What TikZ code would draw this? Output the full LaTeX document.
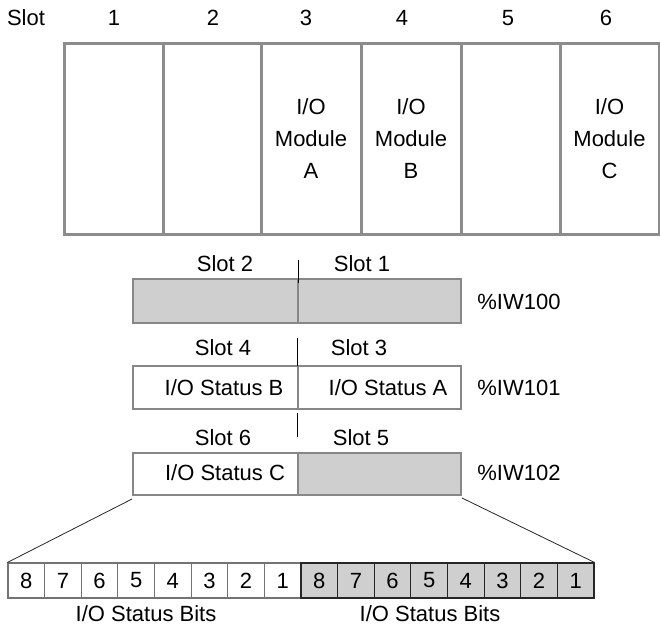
\documentclass[tikz,border=0pt]{standalone}
\usepackage{fontspec}
\setmainfont{Liberation Sans}
\begin{document}
\begin{tikzpicture}[x=1pt,y=-1pt,
  txt/.style={inner sep=0pt,font=\fontsize{22}{32}\selectfont,align=center},
  rackcol/.style={draw=black!45,line width=3pt,minimum height=191pt,inner sep=0pt,
     font=\fontsize{22}{32}\selectfont,align=center},
  reghalf/.style={draw=black!47,line width=2pt,inner sep=0pt,minimum width=165pt},
  wbit/.style={draw=black!55,line width=1.1pt,minimum width=36.6pt,minimum height=35pt,inner sep=0pt,
     font=\fontsize{22}{26}\selectfont},
  gbit/.style={wbit,fill=black!19,draw=black!85},
  tick/.style={draw=black,line width=0.9pt},
  fan/.style={draw=black!85,line width=0.8pt}]
\useasboundingbox (0,0) rectangle (660,629);
% top slot numbers
\node[txt] (sl)  at (26,18) {Slot};
\node[txt] (s1)  at (114,18) {1};
\node[txt] (s2)  at (213,18) {2};
\node[txt] (s3)  at (306,18) {3};
\node[txt] (s4)  at (402,18) {4};
\node[txt] (s5)  at (508,18) {5};
\node[txt] (s6)  at (606,18) {6};
% rack
\node[rackcol,minimum width=99pt]  (c1) at (113.5,138.5) {};
\node[rackcol,minimum width=98pt]  (c2) at (212,138.5) {};
\node[rackcol,minimum width=100pt] (c3) at (311,138.5) {I/O\\Module\\A};
\node[rackcol,minimum width=100pt] (c4) at (411,138.5) {I/O\\Module\\B};
\node[rackcol,minimum width=99pt]  (c5) at (510.5,138.5) {};
\node[rackcol,minimum width=99pt]  (c6) at (609.5,138.5) {I/O\\Module\\C};
% register %IW100
\node[reghalf,fill=black!19,minimum height=44pt] (r1l) at (215.5,301) {};
\node[reghalf,fill=black!19,minimum height=44pt,minimum width=163pt] (r1r) at (379.5,301) {};
\node[txt] (r1a) at (225,264) {Slot 2};
\node[txt] (r1b) at (362,264) {Slot 1};
\node[txt] (r1n) at (519,302) {\%IW100};
\draw[tick] (298,260) -- (298,283);
% register %IW101
\node[reghalf,minimum height=43pt] (r2l) at (215.5,387.5) {};
\node[reghalf,minimum height=43pt,minimum width=163pt] (r2r) at (379.5,387.5) {};
\node[txt] (r2a) at (223,348) {Slot 4};
\node[txt] (r2b) at (359,348) {Slot 3};
\node[txt] (r2c) at (224,388) {I/O Status B};
\node[txt] (r2d) at (388,388) {I/O Status A};
\node[txt] (r2n) at (519,388) {\%IW101};
\draw[tick] (297,338) -- (297,366);
% register %IW102
\node[reghalf,minimum height=42pt] (r3l) at (215.5,474) {};
\node[reghalf,fill=black!19,minimum height=42pt,minimum width=163pt] (r3r) at (379.5,474) {};
\node[txt] (r3a) at (223,438) {Slot 6};
\node[txt] (r3b) at (361,438) {Slot 5};
\node[txt] (r3c) at (225,473) {I/O Status C};
\node[txt] (r3n) at (519,473) {\%IW102};
\draw[tick] (297,413) -- (297,437);
% bits
\foreach \i/\t in {1/8,2/7,3/6,4/5,5/4,6/3,7/2,8/1}
  \node[wbit] (b\i) at ({8+36.625*(\i-0.5)},580.5) {\t};
\foreach \i/\t in {9/8,10/7,11/6,12/5,13/4,14/3,15/2,16/1}
  \node[gbit] (b\i) at ({8+36.625*(\i-0.5)},580.5) {\t};
\node[txt] (lb1) at (146,614) {I/O Status Bits};
\node[txt] (lb2) at (430,614) {I/O Status Bits};
% fan lines
\draw[fan] ([yshift=-3pt]r3l.south west) -- (b1.north west);
\draw[fan] ([yshift=-2pt]r3r.south east) -- (b16.north east);
\end{tikzpicture}
\end{document}
